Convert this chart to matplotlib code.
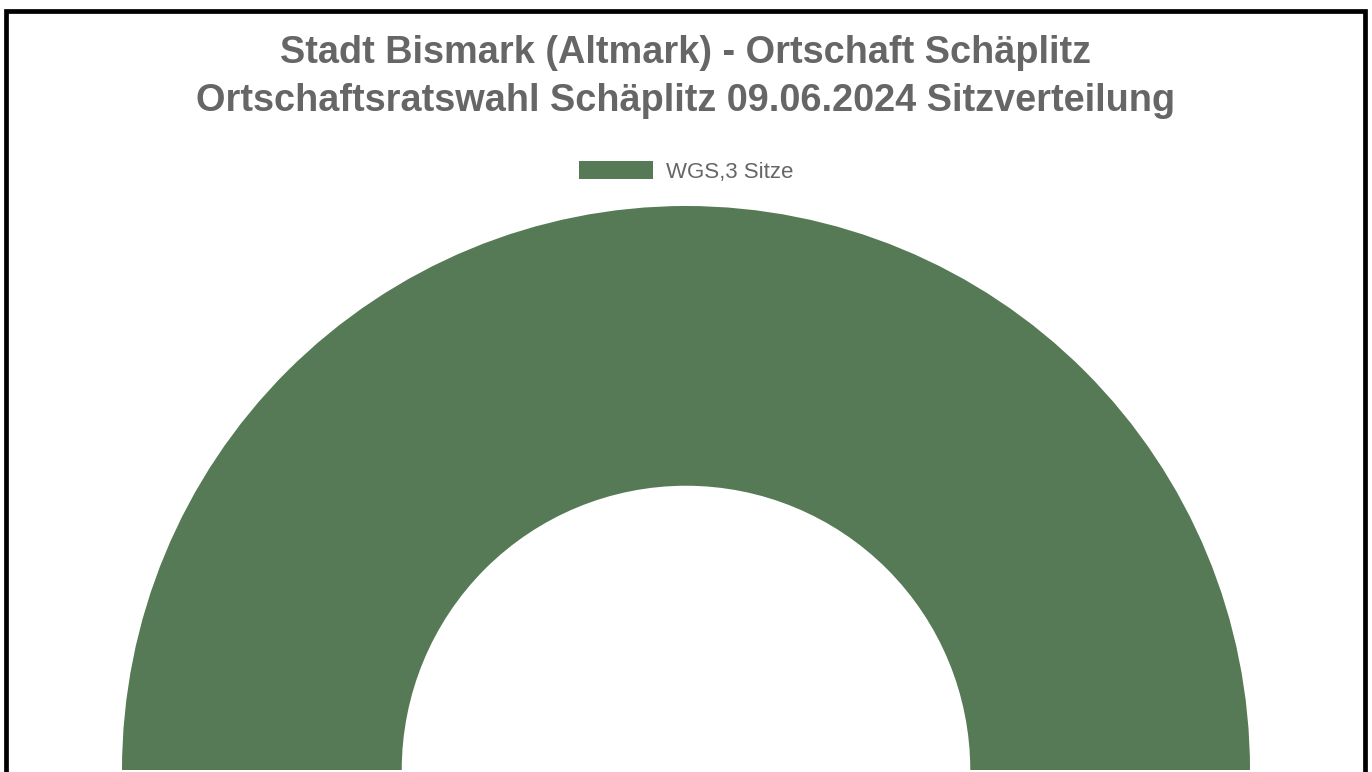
import matplotlib.pyplot as plt
from matplotlib.patches import Rectangle

W, H = 1372, 772

title_lines = ["Stadt Bismark (Altmark) - Ortschaft Schäplitz",
               "Ortschaftsratswahl Schäplitz 09.06.2024 Sitzverteilung"]
parties = ["WGS"]
seats = [3]
colors = ["#557a55"]

plt.rcParams['font.family'] = ['Liberation Sans', 'DejaVu Sans']

fig = plt.figure(figsize=(W / 100, H / 100), dpi=100)

# frame round the picture (no bottom edge visible)
fig.patches.append(Rectangle((5.5 / W, -0.1), (1365 - 5.5) / W, 1.1 - 11 / H,
                             transform=fig.transFigure, fill=False,
                             edgecolor='black', linewidth=3.4, zorder=5))

fig.text(686 / W, 1 - 63 / H, title_lines[0], ha='center', va='baseline',
         fontsize=27.3, fontweight='bold', color='#666666')
fig.text(686 / W, 1 - 111 / H, title_lines[1], ha='center', va='baseline',
         fontsize=27.3, fontweight='bold', color='#666666')

# half donut: the hidden second wedge takes the lower half
cx, cy, r = 686, 2, 564
ax = fig.add_axes([(cx - r) / W, (cy - r) / H, 2 * r / W, 2 * r / H])
total = sum(seats)
wedges, _ = ax.pie(seats + [total], colors=colors + ['none'], radius=1,
                   startangle=180, counterclock=False,
                   wedgeprops=dict(width=0.496, linewidth=0))
ax.set_xlim(-1, 1)
ax.set_ylim(-1, 1)
ax.set_aspect('auto')
ax.axis('off')

labels = [f"{p},{s} Sitze" for p, s in zip(parties, seats)]
fig.legend(wedges[:len(parties)], labels, loc='center',
           bbox_to_anchor=(686 / W, 1 - 172 / H), frameon=False,
           fontsize=16, labelcolor='#666666', handlelength=3.35,
           handleheight=0.86, handletextpad=0.55)

fig.savefig("out.png", dpi=100)
